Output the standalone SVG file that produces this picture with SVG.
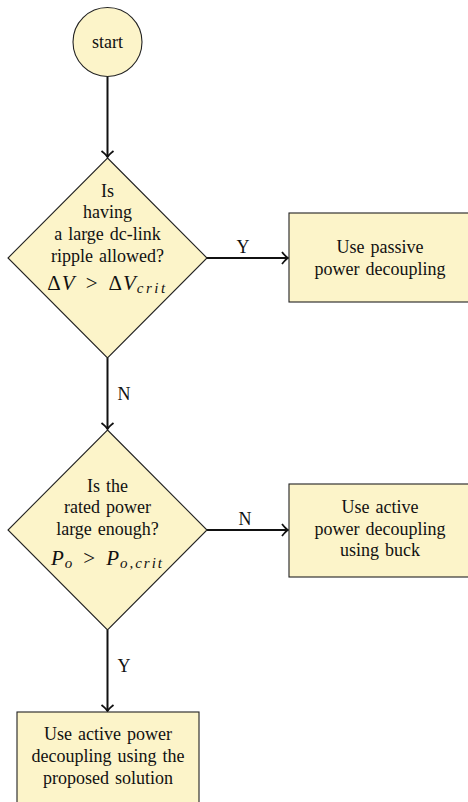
<svg xmlns="http://www.w3.org/2000/svg" width="468" height="802" viewBox="0 0 468 802">
<style>
  .node { fill: #fcf4c9; stroke: #222; stroke-width: 1.1; }
  text { font-family: 'Liberation Serif', 'DejaVu Serif', serif; font-size: 18px; fill: #111; text-anchor: middle; word-spacing: 1.5px; }
  .math { font-size: 21px; word-spacing: 0; }
  .m { font-style: italic; }
  .sub { font-size: 15px; font-style: italic; }
  .edge { stroke: #111; stroke-width: 2; fill: none; marker-end: url(#arr); }
</style>
<defs>
  <marker id="arr" markerUnits="userSpaceOnUse" markerWidth="14" markerHeight="14" refX="0" refY="0" viewBox="-8 -7 10 14" orient="auto" overflow="visible">
    <path d="M -6 -6 Q -2 -1 0 0 Q -2 1 -6 6" fill="none" stroke="#111" stroke-width="1.8"/>
  </marker>
</defs>
<g id="connectors">
  <path class="edge" d="M 107.5 77 L 107.5 157"/>
  <path class="edge" d="M 207 258 L 288 258"/>
  <text x="243" y="253">Y</text>
  <path class="edge" d="M 107.5 358 L 107.5 429"/>
  <text x="124" y="400">N</text>
  <path class="edge" d="M 207 530 L 288 530"/>
  <text x="245" y="525">N</text>
  <path class="edge" d="M 107.5 630 L 107.5 711"/>
  <text x="124" y="672">Y</text>
</g>
<g id="start">
  <circle class="node" cx="107.5" cy="42" r="34.5"/>
  <text x="107.5" y="48">start</text>
</g>
<g id="decision1">
  <polygon class="node" points="107.5,158 207,258 107.5,358 8,258"/>
  <text x="107.5" y="197">Is</text>
  <text x="107.5" y="218">having</text>
  <text x="107.5" y="240">a large dc-link</text>
  <text x="107.5" y="262">ripple allowed?</text>
  <text class="math" x="107.5" y="290">Δ<tspan class="m" dx="1">V</tspan><tspan dx="11">&gt;</tspan><tspan dx="11">Δ</tspan><tspan class="m" dx="1">V</tspan><tspan class="sub" dy="3" dx="1" letter-spacing="2.5">crit</tspan></text>
</g>
<g id="passive">
  <rect class="node" x="289" y="213" width="182" height="89"/>
  <text x="380" y="253">Use passive</text>
  <text x="380" y="275">power decoupling</text>
</g>
<g id="decision2">
  <polygon class="node" points="107.5,430 207,530 107.5,630 8,530"/>
  <text x="107.5" y="492">Is the</text>
  <text x="107.5" y="513">rated power</text>
  <text x="107.5" y="535">large enough?</text>
  <text class="math" x="107.5" y="565"><tspan class="m">P</tspan><tspan class="sub" dy="3" dx="1">o</tspan><tspan dy="-3" dx="11">&gt;</tspan><tspan class="m" dx="11">P</tspan><tspan class="sub" dy="3" dx="1" letter-spacing="2">o,crit</tspan></text>
</g>
<g id="buck">
  <rect class="node" x="289" y="484" width="182" height="93"/>
  <text x="380" y="513">Use active</text>
  <text x="380" y="535">power decoupling</text>
  <text x="380" y="556">using buck</text>
</g>
<g id="proposed">
  <rect class="node" x="17" y="712" width="182" height="95"/>
  <text x="108" y="740">Use active power</text>
  <text x="108" y="762">decoupling using the</text>
  <text x="108" y="784">proposed solution</text>
</g>
</svg>
